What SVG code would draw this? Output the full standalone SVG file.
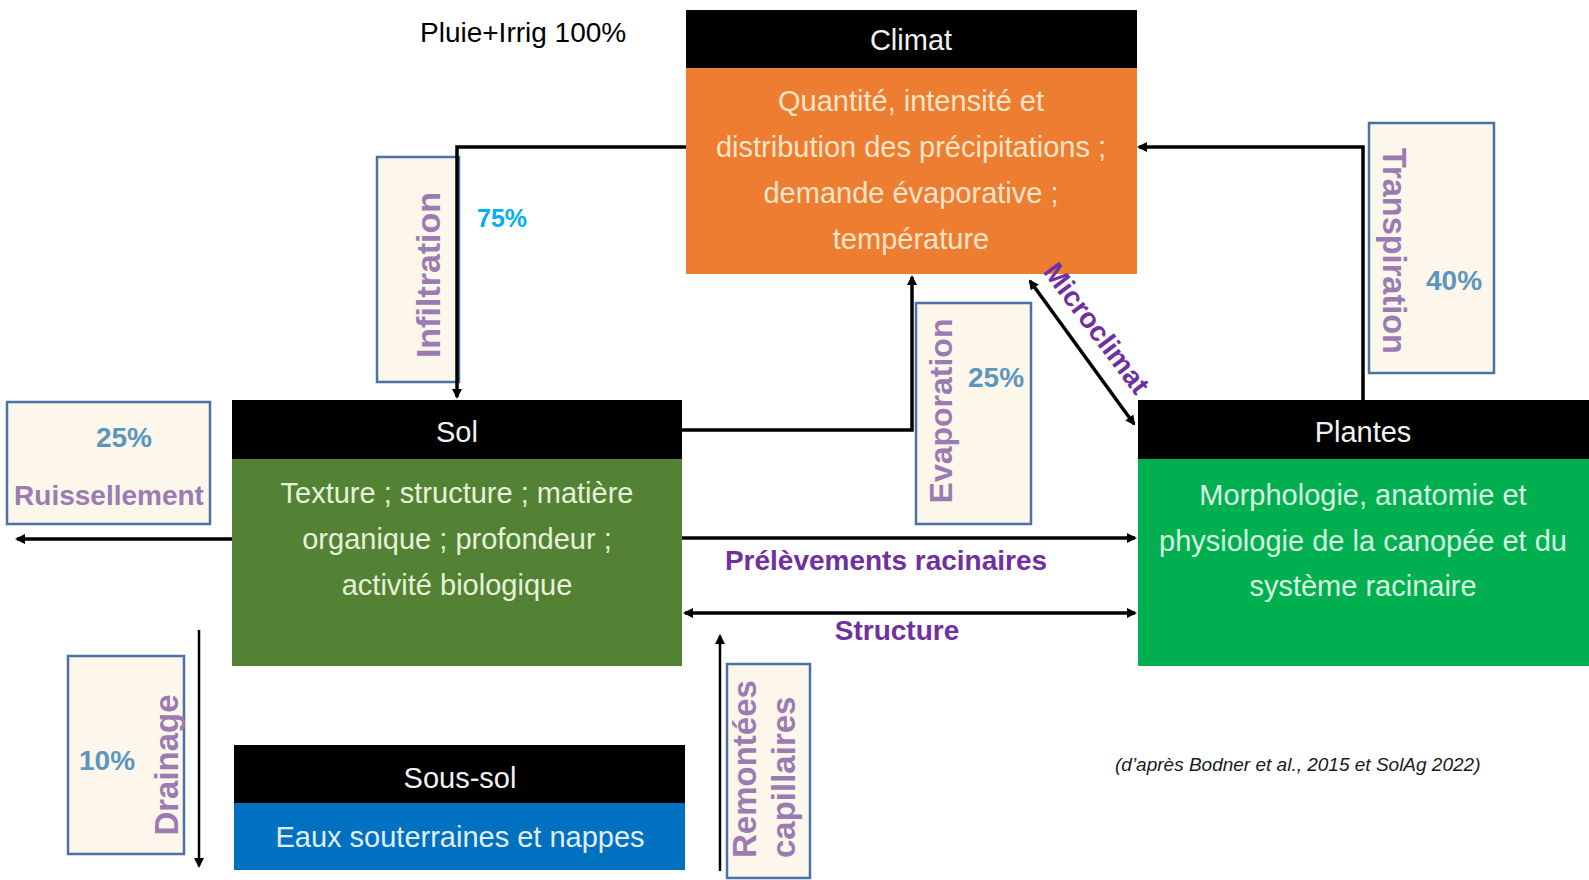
<svg xmlns="http://www.w3.org/2000/svg" width="1589" height="880" viewBox="0 0 1589 880">
<style>
.t{font-family:"Liberation Sans",Arial,sans-serif;}
.hdr{fill:#000000;}
.title{font-family:"Liberation Sans",Arial,sans-serif;font-size:29px;fill:#F2F2F2;text-anchor:middle;}
.body{font-family:"Liberation Sans",Arial,sans-serif;font-size:29px;text-anchor:middle;}
.lbox{fill:#FDF6EA;stroke:#4A72A6;stroke-width:2.5;}
.ltxt{font-family:"Liberation Sans",Arial,sans-serif;font-weight:bold;fill:#9A7CB3;}
.pct{font-family:"Liberation Sans",Arial,sans-serif;font-weight:bold;font-size:28px;fill:#5C96BF;}
.conn{fill:none;stroke:#000000;stroke-width:3.5;}
.thin{fill:none;stroke:#000000;stroke-width:2.5;}
.clab{font-family:"Liberation Sans",Arial,sans-serif;font-weight:bold;font-size:28px;fill:#7030A0;}
</style>
<defs>
<marker id="ah" viewBox="0 0 10 10" refX="8" refY="5" markerWidth="11" markerHeight="10" markerUnits="userSpaceOnUse" orient="auto-start-reverse">
<path d="M0,0 L10,5 L0,10 z" fill="#000000"/>
</marker>
</defs>
<rect x="0" y="0" width="1589" height="880" fill="#FFFFFF"/>

<text class="t" x="420" y="42" font-size="28" fill="#000000">Pluie+Irrig 100%</text>

<g id="node-climat">
<rect x="686" y="68" width="451" height="206" fill="#ED7D31"/>
<rect class="hdr" x="686" y="10" width="451" height="58"/>
<text class="title" x="911" y="50">Climat</text>
<g class="body" fill="#FCE4C8">
<text x="911" y="111">Quantité, intensité et</text>
<text x="911" y="157">distribution des précipitations ;</text>
<text x="911" y="203">demande évaporative ;</text>
<text x="911" y="249">température</text>
</g>
</g>

<g id="node-sol">
<rect x="232" y="459" width="450" height="207" fill="#548235"/>
<rect class="hdr" x="232" y="400" width="450" height="59"/>
<text class="title" x="457" y="442">Sol</text>
<g class="body" fill="#E5F2DA">
<text x="457" y="503">Texture ; structure ; matière</text>
<text x="457" y="549">organique ; profondeur ;</text>
<text x="457" y="595">activité biologique</text>
</g>
</g>

<g id="node-plantes">
<rect x="1138" y="459" width="451" height="207" fill="#00B050"/>
<rect class="hdr" x="1138" y="400" width="451" height="59"/>
<text class="title" x="1363" y="442">Plantes</text>
<g class="body" fill="#D8F5E0">
<text x="1363" y="505">Morphologie, anatomie et</text>
<text x="1363" y="551">physiologie de la canopée et du</text>
<text x="1363" y="596">système racinaire</text>
</g>
</g>

<g id="node-soussol">
<rect x="234" y="803" width="451" height="67" fill="#0070C0"/>
<rect class="hdr" x="234" y="745" width="451" height="58"/>
<text class="title" x="460" y="788">Sous-sol</text>
<text class="body" x="460" y="847" fill="#E0EEFA">Eaux souterraines et nappes</text>
</g>

<g id="label-infiltration">
<rect class="lbox" x="377" y="157" width="82" height="225"/>
<text class="ltxt" font-size="34" text-anchor="middle" transform="translate(440,275) rotate(-90)">Infiltration</text>
</g>
<text class="t" x="477" y="227" font-size="25" font-weight="bold" fill="#00B0F0">75%</text>

<g id="label-evaporation">
<rect class="lbox" x="916" y="303" width="115" height="221"/>
<text class="ltxt" font-size="32" text-anchor="middle" transform="translate(952,411) rotate(-90)">Evaporation</text>
<text class="pct" x="968" y="387">25%</text>
</g>

<g id="label-transpiration">
<rect class="lbox" x="1369" y="123" width="125" height="250"/>
<text class="ltxt" font-size="32.5" text-anchor="middle" transform="translate(1383,251) rotate(90)">Transpiration</text>
<text class="pct" x="1426" y="290">40%</text>
</g>

<g id="label-ruissellement">
<rect class="lbox" x="7" y="402" width="203" height="122"/>
<text class="pct" x="124" y="447" text-anchor="middle">25%</text>
<text class="ltxt" font-size="28" x="109" y="505" text-anchor="middle">Ruissellement</text>
</g>

<g id="label-drainage">
<rect class="lbox" x="68" y="656" width="116" height="198"/>
<text class="pct" x="79" y="770">10%</text>
<text class="ltxt" font-size="33" text-anchor="middle" transform="translate(178,765) rotate(-90)">Drainage</text>
</g>

<g id="label-remontees">
<rect class="lbox" x="727" y="664" width="83" height="214"/>
<text class="ltxt" font-size="33" transform="translate(756,858) rotate(-90)">Remontées</text>
<text class="ltxt" font-size="33" transform="translate(795,858) rotate(-90)">capillaires</text>
</g>

<g id="connectors">
<path class="conn" d="M686,147 H457 V397" marker-end="url(#ah)"/>
<path class="conn" d="M682,430 H912 V277" marker-end="url(#ah)"/>
<path class="conn" d="M1363,400 V147 H1139" marker-end="url(#ah)"/>
<path class="conn" d="M1030,281 L1134,424" marker-start="url(#ah)" marker-end="url(#ah)"/>
<path class="conn" d="M232,539 H17" marker-end="url(#ah)"/>
<path class="conn" d="M682,538 H1135" marker-end="url(#ah)"/>
<path class="conn" d="M685,613 H1135" marker-start="url(#ah)" marker-end="url(#ah)"/>
<path class="thin" d="M199,630 V866" marker-end="url(#ah)"/>
<path class="thin" d="M720,871 V636" marker-end="url(#ah)"/>
<text class="clab" x="886" y="570" text-anchor="middle">Prélèvements racinaires</text>
<text class="clab" x="897" y="640" text-anchor="middle">Structure</text>
<text class="clab" font-size="26" text-anchor="middle" transform="translate(1089,334) rotate(53)">Microclimat</text>
</g>

<text class="t" x="1115" y="771" font-size="19" font-style="italic" fill="#1A1A1A">(d’après Bodner et al., 2015 et SolAg 2022)</text>
</svg>
